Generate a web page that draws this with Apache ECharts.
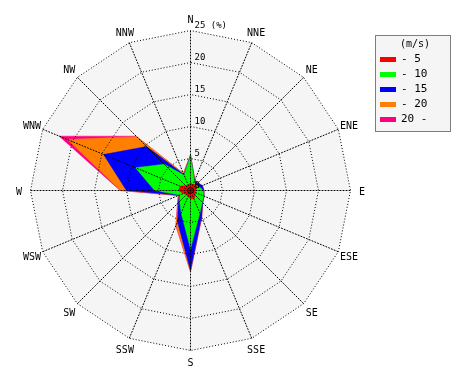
<!DOCTYPE html>
<html><head><meta charset="utf-8">
<script src="https://cdn.jsdelivr.net/npm/echarts@6/dist/echarts.min.js"></script>
<style>html,body{margin:0;padding:0;background:#fff}#c{width:470px;height:380px}</style>
</head><body><div id="c"></div>
<script>
// Wind directions (clockwise from North)
const directions = ['N','NNE','NE','ENE','E','ESE','SE','SSE','S','SSW','SW','WSW','W','WNW','NW','NNW'];
// Wind-speed classes (m/s)
const speedClasses = ['- 5','- 10','- 15','- 20','20 -'];
// Radial tick values (%)
const radialTicks = [0, 5, 10, 15, 20, 25];
// Cumulative frequency (%) per direction, for speeds up to each class
const upTo5  = [1.2, 1.0, 1.3, 1.0, 0.8, 0.8, 1.1, 1.4, 1.3, 1.0, 0.9, 1.2, 1.9, 1.7, 1.1, 0.9];
const upTo10 = [5.4, 1.6, 1.1, 1.5, 2.0, 2.2, 2.6, 3.8, 9.1, 3.8, 2.4, 1.8, 5.6, 9.3, 5.8, 2.6];
const upTo15 = [5.5, 1.7, 1.6, 2.0, 2.1, 2.3, 2.7, 4.5, 12.5, 5.3, 2.7, 1.9, 10.0, 14.7, 9.7, 2.7];
const upTo20 = [5.6, 1.8, 1.7, 2.0, 2.1, 2.3, 2.7, 4.6, 12.7, 5.9, 2.8, 2.0, 10.9, 20.8, 11.9, 2.9];
const allSpeeds = [5.6, 1.8, 1.7, 2.0, 2.1, 2.3, 2.7, 4.6, 12.7, 6.0, 2.9, 2.1, 11.0, 22.2, 12.0, 2.9];
const classColors = ['#ff0000', '#00ff00', '#0000ff', '#ff8000', '#ff0080'];

const FONT = 'DejaVu Sans Mono';
const maxVal = radialTicks[radialTicks.length - 1];
// ECharts radar runs counter-clockwise; reorder so directions run clockwise
const order = [0];
for (let i = directions.length - 1; i >= 1; i--) order.push(i);
const reorder = arr => order.map(i => arr[i]);

const cumulative = [upTo5, upTo10, upTo15, upTo20, allSpeeds];

const baseRadar = {
  center: [190.5, 190.5],
  radius: 160,
  startAngle: 90,
  shape: 'polygon',
  splitNumber: radialTicks.length - 1
};

const plainIndicators = order.map(() => ({ name: '', min: 0, max: maxVal }));
const nameIndicators = order.map(i => ({ name: directions[i], min: 0, max: maxVal }));
const fgIndicators = order.map((i, k) => {
  const ind = { name: '', min: 0, max: maxVal };
  if (k === 0) {
    ind.axisLabel = {
      show: true, color: '#000', fontFamily: FONT, fontSize: 9,
      showMinLabel: true, showMaxLabel: true, hideOverlap: false,
      formatter: v => (v === maxVal ? v + ' (%)' : String(v)),
      align: 'left', verticalAlign: 'bottom', margin: -4, rotate: 0
    };
  }
  return ind;
});

const seriesData = [];
for (let c = cumulative.length - 1; c >= 0; c--) {
  seriesData.push({
    name: speedClasses[c],
    value: reorder(cumulative[c]),
    symbol: 'none',
    lineStyle: { color: classColors[c], width: 0.5 },
    areaStyle: { color: classColors[c], opacity: 1 },
    itemStyle: { color: classColors[c] }
  });
}

const dotted = { color: '#000', type: [1, 2], dashOffset: 0.5, width: 1 };
const hidden = {
  splitArea: { show: false }, splitLine: { show: false }, axisLine: { show: false },
  axisTick: { show: false }, axisLabel: { show: false }
};

const chart = echarts.init(document.getElementById('c'), null, { renderer: 'canvas' });
chart.setOption({
  backgroundColor: '#ffffff',
  animation: false,
  color: classColors,
  radar: [
    // background fill (series are drawn on this radar)
    Object.assign({}, baseRadar, hidden, {
      z: 0,
      indicator: plainIndicators,
      axisName: { show: false },
      splitArea: { show: true, areaStyle: { color: ['#f5f5f5'] } }
    }),
    // dotted grid above the filled areas
    Object.assign({}, baseRadar, hidden, {
      z: 10,
      indicator: fgIndicators,
      axisName: { show: false },
      splitLine: { show: true, lineStyle: dotted },
      axisLine: { show: true, lineStyle: dotted }
    }),
    // direction names (slightly lower, matching the reference text baseline)
    Object.assign({}, baseRadar, hidden, {
      center: [190.5, 192],
      z: 10,
      indicator: nameIndicators,
      nameGap: 11.5,
      axisName: { color: '#000', fontFamily: FONT, fontSize: 10, align: 'center', verticalAlign: 'middle' }
    })
  ],
  legend: {
    data: speedClasses,
    orient: 'vertical',
    left: 380,
    top: 52,
    padding: 0,
    itemWidth: 16,
    itemHeight: 5,
    itemGap: 0,
    icon: 'rect',
    selectedMode: false,
    textStyle: { color: '#000', fontFamily: FONT, fontSize: 11, lineHeight: 15 }
  },
  graphic: [
    { type: 'rect', z: -1, shape: { x: 375.5, y: 35.5, width: 75, height: 96 },
      style: { fill: '#f5f5f5', stroke: '#000', lineWidth: 1, lineDash: [1, 1] } },
    { type: 'text', left: 400, top: 39,
      style: { text: '(m/s)', fill: '#000', font: '10px "' + FONT + '"' } }
  ],
  series: [{
    type: 'radar',
    radarIndex: 0,
    z: 2,
    data: seriesData
  }]
});
</script></body></html>
